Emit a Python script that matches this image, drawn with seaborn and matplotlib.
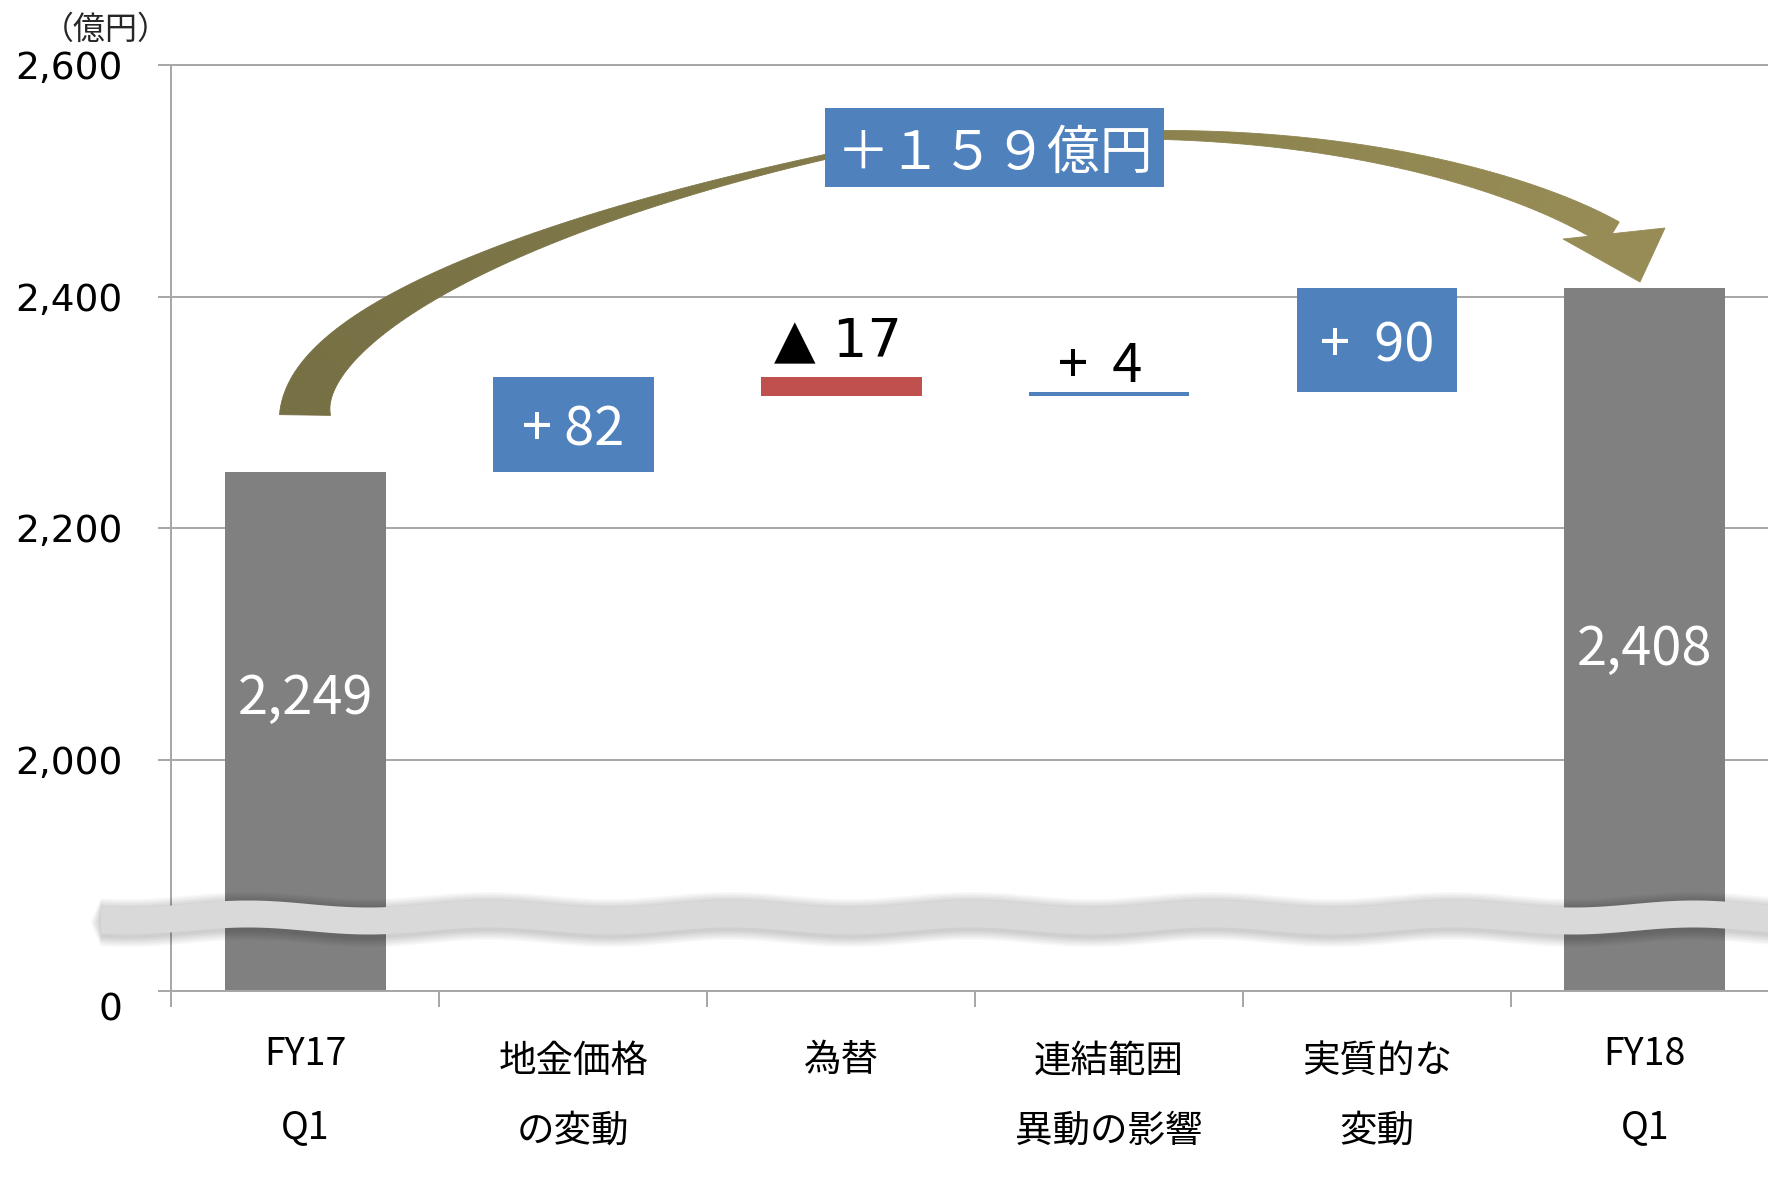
import numpy as np
import pandas as pd
import matplotlib
matplotlib.use("Agg")
import matplotlib.pyplot as plt
import matplotlib.transforms as mtransforms
from matplotlib.patches import Polygon, Rectangle
import seaborn as sns

# ---------------- data ----------------
categories = ["FY17\nQ1", "地金価格\nの変動", "為替", "連結範囲\n異動の影響", "実質的な\n変動", "FY18\nQ1"]
start_value = 2249
deltas = [82, -17, 4, 90]
end_value = 2408
delta_labels = ["+ 82", "▲ 17", "+  4", "+  90"]
total_labels = ["2,249", "2,408"]
y_ticks = [0, 2000, 2200, 2400, 2600]
y_tick_labels = ["0", "2,000", "2,200", "2,400", "2,600"]
unit_label = "（億円）"
total_change_label = "＋１５９億円"

# ---------------- styles ----------------
W, H, DPI = 1768, 1198, 100
GRAY_BAR = "#808080"
BLUE = "#4f81bd"
RED = "#c0504d"
GRID = "#a6a6a6"
ARROW_L = "#767044"
ARROW_R = "#978c55"
FONT = ["Noto Sans CJK JP", "DejaVu Sans"]
LATIN_FONT = ["DejaVu Sans", "Noto Sans CJK JP"]

sns.set_theme(style="white")
plt.rcParams["font.family"] = FONT

fig = plt.figure(figsize=(W / DPI, H / DPI), dpi=DPI)
ax_l, ax_r, ax_t, ax_b = 171.4, 1768.0, 65.4, 991.0
cat_px = 267.9
ax = fig.add_axes([ax_l / W, 1 - ax_b / H, (ax_r - ax_l) / W, (ax_b - ax_t) / H])

def px(x, y):
    return (np.asarray(x, float) / W, 1 - np.asarray(y, float) / H)

# totals via seaborn
tot_df = pd.DataFrame({"cat": [categories[0], categories[-1]],
                       "val": [start_value, end_value]})
sns.barplot(data=tot_df, x="cat", y="val", order=categories, color=GRAY_BAR,
            saturation=1, width=0.6, errorbar=None, ax=ax, zorder=2,
            edgecolor="none")

# floating delta bars
levels = np.concatenate([[start_value], start_value + np.cumsum(deltas)])
bottoms = np.minimum(levels[:-1], levels[1:])
heights = np.abs(np.array(deltas))
colors = [BLUE if d > 0 else RED for d in deltas]
positions = np.arange(1, 1 + len(deltas))
ax.bar(positions, heights, bottom=bottoms, width=0.6, color=colors,
       edgecolor="none", zorder=2)

# broken y scale
def fwd(y):
    y = np.asarray(y, float)
    return np.where(y >= 2000, y, 1800 + 0.1 * y)

def inv(z):
    z = np.asarray(z, float)
    return np.where(z >= 2000, z, (z - 1800) * 10)

ax.set_yscale("function", functions=(fwd, inv))
ax.set_xlabel("")
ax.set_ylabel("")

ax.set_yticks(y_ticks)
ax.set_yticklabels(y_tick_labels, family=LATIN_FONT)
ax.yaxis.set_minor_locator(matplotlib.ticker.NullLocator())
ax.tick_params(axis="y", which="major", left=True, direction="out", length=9.4,
               width=1.4, color=GRID, pad=26, labelsize=27, labelcolor="black")
ax.set_xticks(range(len(categories)))
ax.set_xticklabels(categories, linespacing=2.05)
ax.set_xticks(np.arange(-0.5, len(categories)), minor=True)
ax.tick_params(axis="x", which="major", bottom=True, length=0, pad=32,
               labelsize=27, labelcolor="black")
ax.tick_params(axis="x", which="minor", bottom=True, direction="out",
               length=11.5, width=1.4, color=GRID)
for lbl in ax.get_xticklabels():
    if lbl.get_text().startswith("FY"):
        lbl.set_linespacing(2.12)
    else:
        lbl.set_transform(lbl.get_transform() +
                          mtransforms.ScaledTranslation(0, -6 / DPI, fig.dpi_scale_trans))

# limits after the tick setup (set_ticks can widen the view)
ax.set_ylim(0, 2600)
ax.set_xlim(-0.5, -0.5 + (ax_r - ax_l) / cat_px)

# shift the "0" label slightly down
zero_lbl = ax.get_yticklabels()[0]
zero_lbl.set_transform(zero_lbl.get_transform() +
                       mtransforms.ScaledTranslation(0, -15 / DPI, fig.dpi_scale_trans))

ax.yaxis.grid(True, color=GRID, lw=1.4)
ax.xaxis.grid(False)
ax.set_axisbelow(True)
ax.spines["right"].set_visible(False)
for s in ["left", "bottom", "top"]:
    ax.spines[s].set_color(GRID)
    ax.spines[s].set_linewidth(1.4)

# ---------------- labels ----------------
blend = mtransforms.blended_transform_factory(ax.transData, fig.transFigure)
total_label_px_y = [692, 643]
for xi, txt, py in zip([0, len(categories) - 1], total_labels, total_label_px_y):
    ax.text(xi, 1 - py / H, txt, transform=blend, ha="center",
            va="center_baseline", color="white", fontsize=39, zorder=6)

label_inside = [True, False, False, True]
label_family = [FONT, LATIN_FONT, FONT, FONT]
above_offset_px = [(0, 0), (-3, 41), (-9, 31), (0, 0)]
for i, (xi, txt) in enumerate(zip(positions, delta_labels)):
    top = bottoms[i] + heights[i]
    if label_inside[i]:
        ax.text(xi, bottoms[i] + heights[i] / 2, txt, ha="center",
                va="center_baseline", color="white", fontsize=39, zorder=6,
                family=label_family[i])
    else:
        dx, dy = above_offset_px[i]
        ax.annotate(txt, xy=(xi, top), xytext=(dx * 0.72, dy * 0.72),
                    textcoords="offset points", ha="center",
                    va="center_baseline", color="black", fontsize=39, zorder=6,
                    family=label_family[i])

fig.text(106 / W, 1 - 30 / H, unit_label, ha="center", va="center", fontsize=23)

# ---------------- axis-break wave ----------------
wx = np.linspace(101, W, 900)
wtop = 904 - 3.5 * np.cos(2 * np.pi * (wx - 730) / 241)
wbot = wtop + 27
for k in range(7, 0, -1):
    e = k * 1.5
    xs = np.concatenate([[wx[0] - e], wx, [wx[-1]], wx[::-1]])
    ys = np.concatenate([[(wtop[0] + wbot[0]) / 2 + 2], wtop - e + 2,
                         [wbot[-1] + e + 2], (wbot + e + 2)[::-1]])
    fx, fy = px(xs, ys)
    ax.add_patch(Polygon(np.column_stack([fx, fy]), closed=True,
                         transform=fig.transFigure, clip_on=False,
                         facecolor="black", alpha=0.028, edgecolor="none", zorder=4))
fx, fy = px(np.concatenate([wx, wx[::-1]]), np.concatenate([wtop, wbot[::-1]]))
ax.add_patch(Polygon(np.column_stack([fx, fy]), closed=True,
                     transform=fig.transFigure, clip_on=False,
                     facecolor="#d9d9d9", edgecolor="none", zorder=4.5))

# ---------------- curved arrow ----------------
def bez(P, n):
    P = np.asarray(P, float)
    t = np.linspace(0, 1, n)[:, None]
    return ((1 - t) ** 3 * P[0] + 3 * (1 - t) ** 2 * t * P[1]
            + 3 * (1 - t) * t ** 2 * P[2] + t ** 3 * P[3]), t[:, 0]

s1, t1 = bez([(305, 415), (305, 330), (500, 230), (825, 157)], 160)
s2, t2 = bez([(825, 157), (935, 132), (1054, 134), (1164, 135)], 60)
s3, t3 = bez([(1164, 135), (1380, 138), (1540, 190), (1612, 234)], 120)
w1 = 5 + 46 * (1 - t1) ** 1.3
w2 = 5 + 4 * t2
w3 = 9 + 19 * t3
C = np.vstack([s1, s2[1:], s3[1:]])
Wd = np.concatenate([w1, w2[1:], w3[1:]])
T = np.gradient(C, axis=0)
T /= np.linalg.norm(T, axis=1)[:, None]
N = np.column_stack([-T[:, 1], T[:, 0]])
E1 = C + N * Wd[:, None] / 2
E2 = C - N * Wd[:, None] / 2
cl = np.array(matplotlib.colors.to_rgb(ARROW_L))
cr = np.array(matplotlib.colors.to_rgb(ARROW_R))
x0, x1 = C[0, 0], C[-1, 0]
step = 2
for i in range(0, len(C) - 1, step):
    j = min(i + step, len(C) - 1)
    quad = np.vstack([E1[i:j + 1], E2[i:j + 1][::-1]])
    tcol = np.clip((C[i, 0] - x0) / (x1 - x0), 0, 1)
    col = cl * (1 - tcol) + cr * tcol
    fx, fy = px(quad[:, 0], quad[:, 1])
    ax.add_patch(Polygon(np.column_stack([fx, fy]), closed=True,
                         transform=fig.transFigure, clip_on=False,
                         facecolor=col, edgecolor=col, lw=0.6, zorder=5))
head = np.array([(1563, 239), (1640, 282), (1665, 228)], float)
fx, fy = px(head[:, 0], head[:, 1])
ax.add_patch(Polygon(np.column_stack([fx, fy]), closed=True,
                     transform=fig.transFigure, clip_on=False,
                     facecolor=ARROW_R, edgecolor=ARROW_R, lw=0.6, zorder=5))

# total change box
bx0, by0, bx1, by1 = 825, 108, 1164, 187
ax.add_patch(Rectangle(px(bx0, by1), (bx1 - bx0) / W, (by1 - by0) / H,
                       transform=fig.transFigure, clip_on=False,
                       facecolor=BLUE, edgecolor="none", zorder=6))
ax.text((bx0 + bx1) / 2 / W, 1 - ((by0 + by1) / 2 + 6) / H, total_change_label,
        transform=fig.transFigure, ha="center", va="center", color="white",
        fontsize=38, zorder=7)

fig.savefig("out.png", dpi=DPI)
